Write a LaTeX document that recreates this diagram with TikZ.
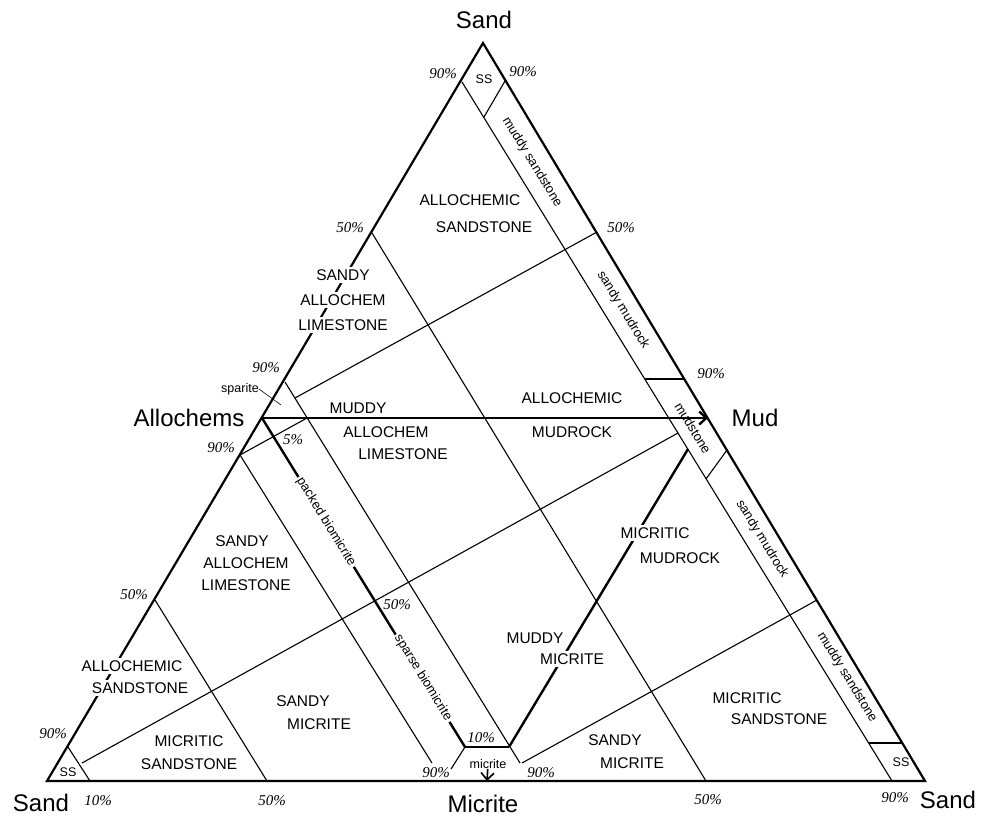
\documentclass[tikz,border=0pt]{standalone}
\usepackage{fontspec}
\setmainfont{Liberation Sans}
\newfontfamily\pctfont{Liberation Serif}
\usepackage{tikz}
\usetikzlibrary{arrows.meta, calc}

\begin{document}
\begin{tikzpicture}[x=1pt, y=-1pt,
    edge/.style={line width=2.2pt, line join=miter},
    bold/.style={line width=2.4pt},
    fine/.style={line width=1.1pt},
    apex/.style={font=\fontsize{24}{28}\selectfont},
    region/.style={font=\fontsize{15.5}{18}\selectfont, fill=white, inner sep=2.5pt},
    strip/.style={font=\fontsize{13}{15}\selectfont, inner sep=1pt, rotate=-58.5},
    onbold/.style={strip, fill=white, inner sep=2pt},
    pct/.style={font=\pctfont\itshape\fontsize{15}{17}\selectfont, inner sep=0pt},
    small/.style={font=\fontsize{12.5}{14}\selectfont, inner sep=0pt}]
    \useasboundingbox (0,0) rectangle (984,818);

    % Corners
    \coordinate (sandT) at (483,43);
    \coordinate (sandL) at (47,781);
    \coordinate (sandR) at (925,781);
    \coordinate (alloc) at (262,418);
    \coordinate (mud) at (708,418);
    \coordinate (micr) at (487,781);

    \draw[edge] (sandT) -- (sandL) -- (sandR) -- cycle;

    % Fine lines
    \draw[fine] (462,82) -- (892,781);
    \draw[fine] (505,81) -- (484,117);
    \draw[fine] (372,233) -- (706,781);
    \draw[fine] (295,398) -- (597,232);
    \draw[fine] (285,382) -- (520,763);
    \draw[fine] (645,379) -- (684,379);
    \draw[fine] (706,479) -- (727,450);
    \draw[fine] (522,763) -- (817,600);
    \draw[fine] (869,743) -- (902,743);
    \draw[fine] (82,763) -- (678,433);
    \draw[fine] (68,747) -- (90,781);
    \draw[fine] (155,600) -- (267,781);
    \draw[fine] (240,455) -- (432,763);
    \draw[fine] (240,455) -- (307,418);
    \draw[fine] (465,747) -- (509,747);
    \draw[fine] (465,747) -- (451,769);

    % Bold lines
    \coordinate (amend) at (465,747);
    \coordinate (dmtop) at (688,449);
    \coordinate (dmend) at (509,747);
    \draw[bold, -{Straight Barb[length=7pt, width=13pt]}] (alloc) -- (mud);
    \draw[bold] (alloc) -- (amend);
    \draw[bold] (dmtop) -- (dmend);

    % Corner labels
    \node (sandtop) [apex] at (484,20) {Sand};
    \node (sandleft) [apex] at (41,803) {Sand};
    \node (sandright) [apex] at (948,800) {Sand};
    \node (alloclab) [apex] at (189,418) {Allochems};
    \node (mudlab) [apex] at (755,418) {Mud};
    \node (micrlab) [apex] at (483,804) {Micrite};

    % Percentages
    \node (p1) [pct] at (443,74) {90\%};
    \node (p2) [pct] at (523,72) {90\%};
    \node (p3) [pct] at (350,228) {50\%};
    \node (p4) [pct] at (621,228) {50\%};
    \node (p5) [pct] at (266,368) {90\%};
    \node (p6) [pct] at (711,374) {90\%};
    \node (p7) [pct] at (221,448) {90\%};
    \node (p8) [pct] at (293,440) {5\%};
    \node (p9) [pct] at (134,595) {50\%};
    \node (p10) [pct] at (397,605) {50\%};
    \node (p11) [pct] at (53,734) {90\%};
    \node (p12) [pct] at (481,738) {10\%};
    \node (p13) [pct] at (436,773) {90\%};
    \node (p14) [pct] at (541,773) {90\%};
    \node (p15) [pct] at (98,801) {10\%};
    \node (p16) [pct] at (272,801) {50\%};
    \node (p17) [pct] at (708,800) {50\%};
    \node (p18) [pct] at (895,798) {90\%};

    % Top field
    \node (tas1) [region] at (470,200) {ALLOCHEMIC};
    \node (tas2) [region] at (484,227) {SANDSTONE};
    \node (tsal1) [region] at (343,275) {SANDY};
    \node (tsal2) [region] at (343,300) {ALLOCHEM};
    \node (tsal3) [region] at (343,325) {LIMESTONE};
    \node (mal1) [region] at (358,408) {MUDDY};
    \node (mal2) [region] at (386,432) {ALLOCHEM};
    \node (mal3) [region] at (403,454) {LIMESTONE};
    \node (amr1) [region] at (572,398) {ALLOCHEMIC};
    \node (amr2) [region] at (572,432) {MUDROCK};

    % Lower left field
    \node (lsal1) [region] at (242,541) {SANDY};
    \node (lsal2) [region] at (246,563) {ALLOCHEM};
    \node (lsal3) [region] at (246,585) {LIMESTONE};
    \node (las1) [region] at (132,666) {ALLOCHEMIC};
    \node (las2) [region] at (140,688) {SANDSTONE};
    \node (lms1) [region] at (189,741) {MICRITIC};
    \node (lms2) [region] at (189,764) {SANDSTONE};
    \node (lsm1) [region] at (303,701) {SANDY};
    \node (lsm2) [region] at (319,724) {MICRITE};

    % Middle and lower right field
    \node (mmr1) [region] at (655,533) {MICRITIC};
    \node (mmr2) [region] at (680,558) {MUDROCK};
    \node (mdm1) [region] at (535,638) {MUDDY};
    \node (mdm2) [region] at (572,659) {MICRITE};
    \node (rms1) [region] at (747,698) {MICRITIC};
    \node (rms2) [region] at (779,719) {SANDSTONE};
    \node (rsm1) [region] at (615,740) {SANDY};
    \node (rsm2) [region] at (632,763) {MICRITE};

    % Strip labels
    \node (tmsst) [strip] at (532,162) {muddy sandstone};
    \node (tsmr) [strip] at (623,310) {sandy mudrock};
    \node (mdst) [strip] at (693,428) {mudstone};
    \node (bsmr) [strip] at (762,539) {sandy mudrock};
    \node (bmsst) [strip] at (847,677) {muddy sandstone};
    \node (packed) [onbold] at (326,522) {packed biomicrite};
    \node (sparse) [onbold] at (423,678) {sparse biomicrite};

    % Small corners
    \node (sstop) [small] at (484,79) {SS};
    \node (ssleft) [small] at (68,772) {SS};
    \node (ssright) [small] at (901,762) {SS};
    \node (sparite) [small] at (240,389) {sparite};
    \coordinate (sparpt) at (281,405);
    \draw[line width=0.6pt] (sparite.east) -- (sparpt);
    \node (micrite) [small] at (488,764) {micrite};
    \draw[line width=1.6pt, -{Straight Barb[length=7pt, width=13pt]}] (micrite) -- (micr);

\end{tikzpicture}
\end{document}
